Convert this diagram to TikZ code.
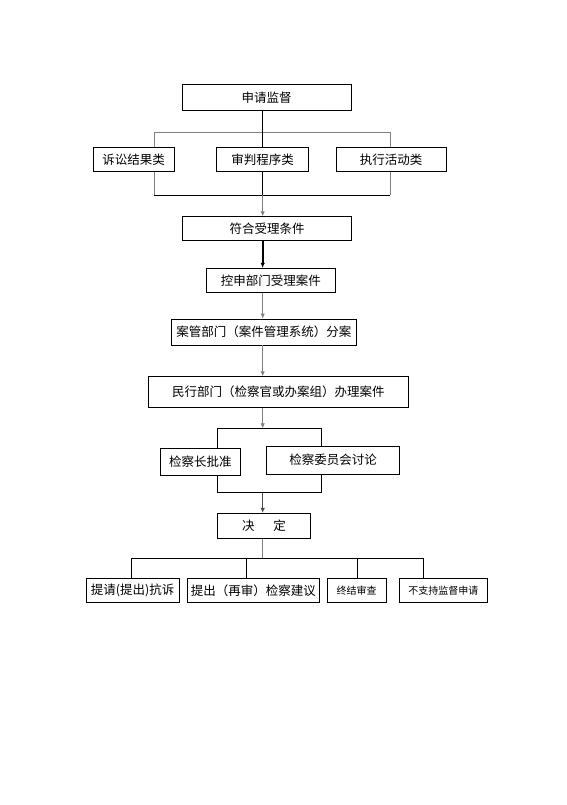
\documentclass[tikz,border=0pt]{standalone}
\usepackage{fontspec}
\setmainfont{Noto Sans CJK SC}
\usetikzlibrary{arrows.meta}
\definecolor{lg}{gray}{0.5}
\definecolor{dg}{gray}{0.3}
\begin{document}
\begin{tikzpicture}[x=1pt,y=-1pt,
  box/.style={draw=black,line width=0.8pt,inner sep=0pt,font=\fontsize{12.5}{14}\selectfont},
  sbox/.style={box,font=\fontsize{10}{12}\selectfont},
  ln/.style={line width=0.9pt,black},
  gln/.style={line width=0.9pt,lg},
  arr/.style={-{Latex[length=5pt,width=4.5pt]}}]
\useasboundingbox (0,0) rectangle (566,805);
% nodes
\node[box,minimum width=169pt,minimum height=25.5pt] (sq) at (266.5,97.3) {申请监督};
\node[box,minimum width=80.7pt,minimum height=24pt] (a1) at (133.7,159.7) {诉讼结果类};
\node[box,minimum width=91.6pt,minimum height=24pt] (a2) at (262.5,159.7) {审判程序类};
\node[box,minimum width=110pt,minimum height=24pt] (a3) at (391,159.7) {执行活动类};
\node[box,minimum width=169pt,minimum height=24pt] (fh) at (267.2,228.7) {符合受理条件};
\node[box,minimum width=128.3pt,minimum height=24.4pt] (ks) at (270.8,280.5) {控申部门受理案件};
\node[box,minimum width=185.7pt,minimum height=26pt] (ag) at (263.8,332) {案管部门（案件管理系统）分案};
\node[box,minimum width=260pt,minimum height=31pt] (mx) at (278.3,392.2) {民行部门（检察官或办案组）办理案件};
\node[box,minimum width=79.3pt,minimum height=26.7pt] (jcz) at (200.3,461.7) {检察长批准};
\node[box,minimum width=132.6pt,minimum height=28pt] (wyh) at (333,460) {检察委员会讨论};
\node[box,minimum width=93.4pt,minimum height=25pt] (jd) at (264,525.8) {决\hspace{1.5em}定};
\node[box,minimum width=93.3pt,minimum height=24.4pt] (b1) at (132.7,590.5) {提请(提出)抗诉};
\node[box,minimum width=132pt,minimum height=24.4pt] (b2) at (253.3,590.5) {提出（再审）检察建议};
\node[sbox,minimum width=58.7pt,minimum height=24.4pt] (b3) at (356.7,590.5) {终结审查};
\node[sbox,minimum width=88pt,minimum height=24.4pt] (b4) at (443.3,590.5) {不支持监督申请};
% coordinates
\coordinate (cx) at (262.7,0);
\coordinate (f1L) at (154,132.3);
\coordinate (f1R) at (390,132.3);
\coordinate (f2L) at (154,195);
\coordinate (f2R) at (390,195);
\coordinate (f2M) at (262.7,195);
\coordinate (g1L) at (217.3,428.3);
\coordinate (g1R) at (321.7,428.3);
\coordinate (g1M) at (262.7,428.3);
\coordinate (g2L) at (217.3,492.7);
\coordinate (g2R) at (321.7,492.7);
\coordinate (g2M) at (262.7,492.7);
\coordinate (hM) at (262.7,558.3);
\coordinate (h1) at (131.7,558.3);
\coordinate (h2) at (246,558.3);
\coordinate (h3) at (357.3,558.3);
\coordinate (h4) at (423.3,558.3);
% top fork
\draw[gln] (f1L) -- (f1R);
\draw[gln] (f1L) -- (a1.north -| f1L);
\draw[gln] (f1R) -- (a3.north -| f1R);
\draw[ln] (sq.south -| cx) -- (a2.north -| cx);
% bottom join
\draw[gln] (a1.south -| f2L) -- (f2L);
\draw[gln] (a3.south -| f2R) -- (f2R);
\draw[ln] (f2L) -- (f2R);
\draw[ln] (a2.south -| cx) -- (f2M);
\draw[gln,arr] (f2M) -- (fh.north -| cx);
% chain
\draw[line width=1.6pt,black,arr] (fh.south -| cx) -- (ks.north -| cx);
\draw[gln,arr] (ks.south -| cx) -- (ag.north -| cx);
\draw[gln,arr] (ag.south -| cx) -- (mx.north -| cx);
\draw[gln,arr] (mx.south -| cx) -- (g1M);
% second fork
\draw[ln] (g1L) -- (g1R);
\draw[ln] (g1L) -- (jcz.north -| g1L);
\draw[ln] (g1R) -- (wyh.north -| g1R);
\draw[ln] (jcz.south -| g2L) -- (g2L) -- (g2R) -- (wyh.south -| g2R);
\draw[dg,line width=0.9pt,arr] (g2M) -- (jd.north -| cx);
% bottom fork
\draw[gln] (jd.south -| cx) -- (hM);
\draw[ln] (h1) -- (h4);
\draw[ln] (h1) -- (b1.north -| h1);
\draw[ln] (h2) -- (b2.north -| h2);
\draw[ln] (h3) -- (b3.north -| h3);
\draw[ln] (h4) -- (b4.north -| h4);
\end{tikzpicture}
\end{document}
